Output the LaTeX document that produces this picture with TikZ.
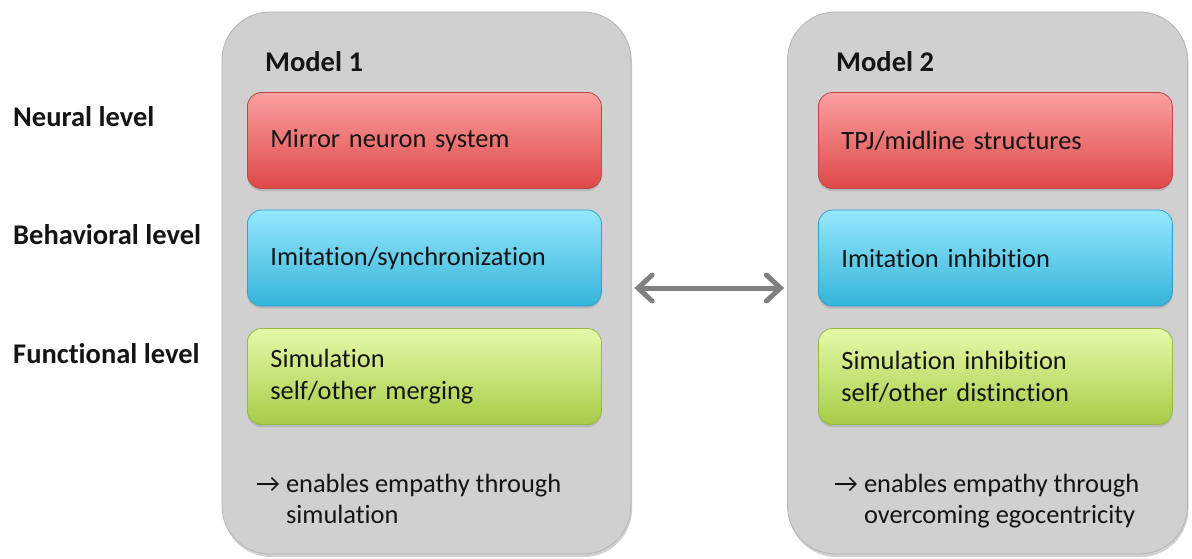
\documentclass[tikz,border=0pt]{standalone}
\usepackage{fontspec}
\setmainfont[Ligatures={NoCommon}]{Carlito}
\usetikzlibrary{shadows,arrows.meta}
\definecolor{panelgray}{RGB}{208,208,208}
\definecolor{paneledge}{RGB}{180,180,180}
\definecolor{redtop}{RGB}{250,160,160}
\definecolor{redbot}{RGB}{222,72,72}
\definecolor{rededge}{RGB}{190,70,70}
\definecolor{bluetop}{RGB}{150,232,252}
\definecolor{bluebot}{RGB}{52,180,218}
\definecolor{blueedge}{RGB}{50,160,200}
\definecolor{greentop}{RGB}{230,250,170}
\definecolor{greenbot}{RGB}{166,204,70}
\definecolor{greenedge}{RGB}{150,185,70}
\definecolor{arrowgray}{RGB}{128,128,128}
\definecolor{textblack}{RGB}{20,20,20}
\begin{document}
\begin{tikzpicture}[x=1pt,y=-1pt,
  panel/.style={rounded corners=48pt, fill=panelgray, draw=paneledge, line width=0.8pt,
    minimum height=542pt, inner sep=0pt,
    drop shadow={shadow xshift=1pt, shadow yshift=-3pt, opacity=0.35}},
  levelbox/.style={rounded corners=14pt, line width=0.8pt, minimum height=96pt,
    text width=308pt, inner xsep=23pt, align=left, anchor=west,
    font=\fontsize{26.4}{32}\selectfont, text=textblack,
    drop shadow={shadow xshift=0pt, shadow yshift=-2.5pt, opacity=0.3}},
  redbox/.style={levelbox, top color=redtop, bottom color=redbot, draw=rededge},
  bluebox/.style={levelbox, top color=bluetop, bottom color=bluebot, draw=blueedge},
  greenbox/.style={levelbox, top color=greentop, bottom color=greenbot, draw=greenedge},
  levellabel/.style={anchor=base west, inner sep=0pt, font=\fontsize{28.5}{34}\selectfont\bfseries, text=textblack},
  modeltitle/.style={anchor=base west, inner sep=0pt, font=\fontsize{28.5}{34}\selectfont\bfseries, text=textblack},
  note/.style={anchor=north west, inner sep=0pt, align=left, font=\fontsize{26.4}{31}\selectfont, text=textblack},
  biarrow/.style={draw=arrowgray, line width=5pt, line cap=round,
    {Straight Barb[length=14pt,width=26pt,line cap=round]}-{Straight Barb[length=14pt,width=26pt,line cap=round]}}
]
\useasboundingbox (0,0) rectangle (1192,558);
\fill[white] (0,0) rectangle (1192,558);

% panels
\node[panel, minimum width=409pt] (m1) at (426.5,283) {};
\node[panel, minimum width=400pt] (m2) at (987.5,283) {};

% level labels
\node[levellabel] (lneural) at (13,126) {Neural level};
\node[levellabel] (lbehav) at (13,244) {Behavioral level};
\node[levellabel] (lfunc) at (13,363) {Functional level};

% titles
\node[modeltitle] (t1) at (265,71) {Model 1};
\node[modeltitle] (t2) at (836,71) {Model 2};

% model 1 boxes
\node[redbox] (r1) at (247,140.5) {Mirror neuron system};
\node[bluebox] (b1) at (247,258) {Imitation/synchronization};
\node[greenbox] (g1) at (247,376.5) {Simulation\\self/other merging};

% model 2 boxes
\node[redbox] (r2) at (818,140.5) {TPJ/midline structures};
\node[bluebox] (b2) at (818,258) {Imitation inhibition};
\node[greenbox] (g2) at (818,376.5) {Simulation inhibition\\self/other distinction};

% notes
\node[note] (n1) at (256,474) {\textrightarrow{} enables empathy through\\\hphantom{\textrightarrow{}} simulation};
\node[note] (n2) at (834,474) {\textrightarrow{} enables empathy through\\\hphantom{\textrightarrow{}} overcoming egocentricity};

% double arrow
\draw[biarrow] ([xshift=3pt,yshift=-5pt]m1.east) -- ([xshift=-3pt,yshift=-5pt]m2.west);
\end{tikzpicture}
\end{document}
